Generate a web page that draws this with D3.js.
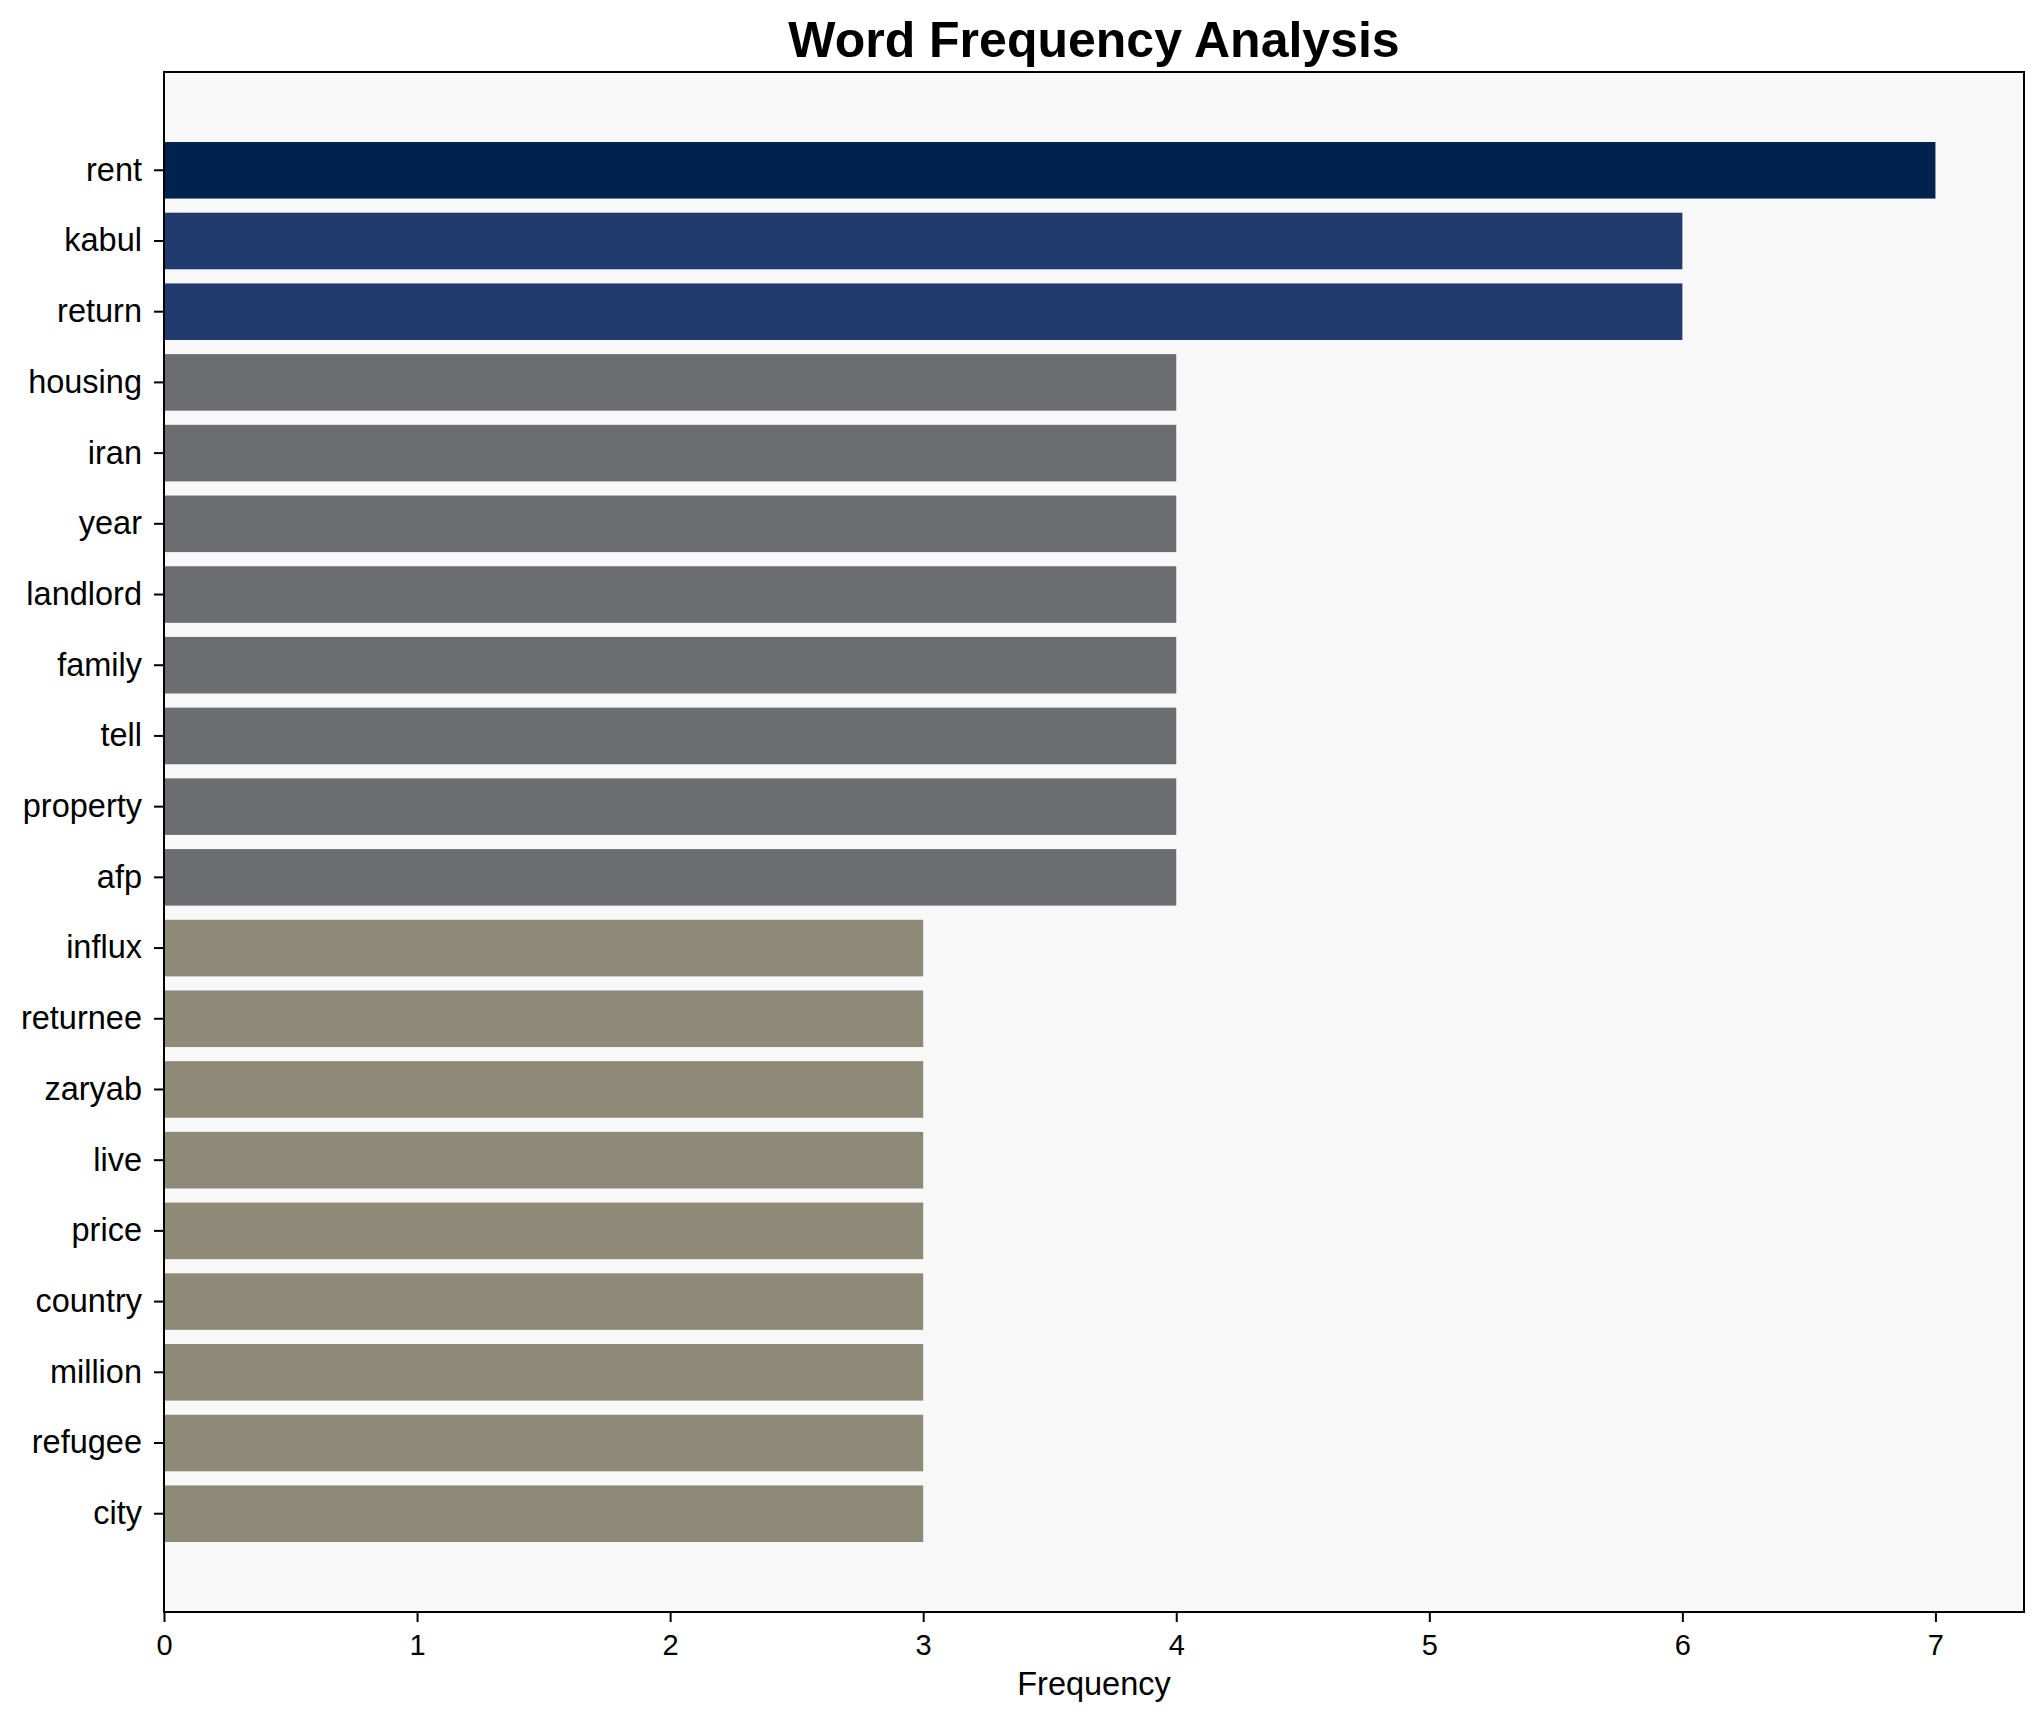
<!DOCTYPE html>
<html>
<head>
<meta charset="utf-8">
<script src="https://cdn.jsdelivr.net/npm/d3@7.9.0/dist/d3.min.js"></script>
<style>
  body { margin: 0; background: #fff; }
  svg { display: block; font-family: "Liberation Sans", Arial, sans-serif; }
</style>
</head>
<body>
<svg id="chart" width="2043" height="1722"></svg>
<script>
// word counts, top to bottom
const words = ['rent', 'kabul', 'return', 'housing', 'iran', 'year', 'landlord', 'family', 'tell',
  'property', 'afp', 'influx', 'returnee', 'zaryab', 'live', 'price', 'country', 'million', 'refugee', 'city'];
const counts = [7, 6, 6, 4, 4, 4, 4, 4, 4, 4, 4, 3, 3, 3, 3, 3, 3, 3, 3, 3];
const xTicks = [0, 1, 2, 3, 4, 5, 6, 7];

const data = words.map((w, i) => ({ word: w, count: counts[i] }));

const W = 2043, H = 1722;
const margin = { top: 72, right: 19, bottom: 110, left: 164 };
const iw = W - margin.left - margin.right;
const ih = H - margin.top - margin.bottom;

const svg = d3.select('#chart');
const g = svg.append('g').attr('transform', `translate(${margin.left},${margin.top})`);

const x = d3.scaleLinear().domain([0, d3.max(counts) * 1.05]).range([0, iw]);
const y = d3.scaleBand().domain(words).range([0, ih]).paddingInner(0.2).paddingOuter(0.99);

const color = d3.scaleOrdinal()
  .domain([7, 6, 4, 3])
  .range(['#00224e', '#223b6e', '#6c6d71', '#8f8a78']);

g.append('rect').attr('width', iw).attr('height', ih).attr('fill', '#f8f8f8');

g.selectAll('rect.bar')
  .data(data)
  .join('rect')
  .attr('class', 'bar')
  .attr('x', x(0))
  .attr('y', d => y(d.word))
  .attr('width', d => x(d.count) - x(0))
  .attr('height', y.bandwidth())
  .attr('fill', d => color(d.count));

// axes
const xAxis = g.append('g')
  .attr('transform', `translate(0,${ih})`)
  .call(d3.axisBottom(x).tickValues(xTicks).tickFormat(d3.format('d')).tickSize(10).tickPadding(12));
xAxis.select('.domain').remove();
xAxis.selectAll('line').attr('stroke', '#000').attr('stroke-width', 2);
xAxis.selectAll('text').attr('font-size', 29).attr('fill', '#000');

const yAxis = g.append('g')
  .call(d3.axisLeft(y).tickSize(10).tickPadding(12));
yAxis.select('.domain').remove();
yAxis.selectAll('line').attr('stroke', '#000').attr('stroke-width', 2);
yAxis.selectAll('text').attr('font-size', 32.5).attr('fill', '#000');

// frame
g.append('rect').attr('width', iw).attr('height', ih)
  .attr('fill', 'none').attr('stroke', '#000').attr('stroke-width', 2);

svg.append('text')
  .attr('x', margin.left + iw / 2).attr('y', 57)
  .attr('text-anchor', 'middle')
  .attr('font-size', 50).attr('font-weight', 'bold')
  .text('Word Frequency Analysis');

svg.append('text')
  .attr('x', margin.left + iw / 2).attr('y', 1695)
  .attr('text-anchor', 'middle')
  .attr('font-size', 32.5)
  .text('Frequency');
</script>
</body>
</html>
